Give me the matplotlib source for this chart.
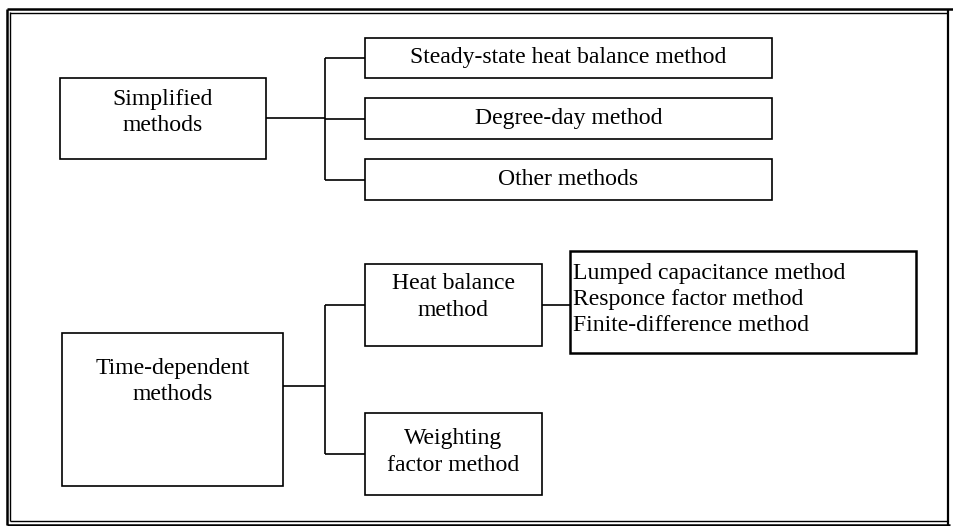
"""Classification of heat load calculation methods - tree diagram."""
import matplotlib.pyplot as plt
from matplotlib.patches import Rectangle

plt.rcParams['font.family'] = ['Liberation Serif', 'DejaVu Serif']

# Node labels
ROOT_LABELS = ['Simplified\nmethods', 'Time-dependent\nmethods']
SIMPLE_LABELS = ['Steady-state heat balance method', 'Degree-day method', 'Other methods']
TIME_LABELS = ['Heat balance\nmethod', 'Weighting\nfactor method']
HB_SUB_LABELS = ['Lumped capacitance method', 'Responce factor method', 'Finite-difference method']

# Layout in pixels (x0, y0, x1, y1), y downward
ROOT_BOXES = [(60, 78, 266, 159), (62, 333, 283, 486)]
ROOT_TEXT_Y = [112.5, 381.5]
SIMPLE_BOXES = [(365, 38, 772, 78), (365, 98, 772, 139), (365, 159, 772, 200)]
TIME_BOXES = [(365, 264, 542, 346), (365, 413, 542, 495)]
TIME_TEXT_Y = [297, 452]
HB_SUB_BOX = (570, 251, 916, 353)
BRANCH_X = 325
FS = 17.1
LSP = 1.32
LW = 1.2


def box(ax, b, lw=LW):
    x0, y0, x1, y1 = b
    ax.add_patch(Rectangle((x0, y0), x1 - x0, y1 - y0, fill=False,
                           edgecolor='black', linewidth=lw))


def line(ax, xs, ys, lw=LW):
    ax.plot(xs, ys, color='black', linewidth=lw, solid_capstyle='butt')


fig = plt.figure(figsize=(9.54, 5.26), dpi=100)
ax = fig.add_axes([0, 0, 1, 1])
ax.set_xlim(0, 954)
ax.set_ylim(526, 0)
ax.axis('off')

# outer double frame
line(ax, [7, 954], [9, 9], lw=1.8)
line(ax, [10, 948], [12.5, 12.5], lw=1.0)
line(ax, [7.5, 7.5], [9, 524.5], lw=1.8)
line(ax, [10.5, 10.5], [12, 521], lw=1.0)
line(ax, [7, 950], [524.5, 524.5], lw=1.8)
line(ax, [10, 948], [521, 521], lw=1.0)
line(ax, [948.5, 948.5], [9, 524.5], lw=1.6)

# root nodes
for b, ty, lab in zip(ROOT_BOXES, ROOT_TEXT_Y, ROOT_LABELS):
    box(ax, b)
    ax.text((b[0] + b[2]) / 2, ty, lab, ha='center', va='center',
            fontsize=FS, linespacing=LSP)

# simplified branch
sy = [(b[1] + b[3]) / 2 for b in SIMPLE_BOXES]
line(ax, [ROOT_BOXES[0][2], BRANCH_X], [118, 118])
line(ax, [BRANCH_X, BRANCH_X], [sy[0], sy[-1]])
for b, y, lab in zip(SIMPLE_BOXES, sy, SIMPLE_LABELS):
    box(ax, b)
    line(ax, [BRANCH_X, b[0]], [y, y])
    ax.text((b[0] + b[2]) / 2, y, lab, ha='center', va='center', fontsize=FS)

# time-dependent branch
ty_conn = [(b[1] + b[3]) / 2 for b in TIME_BOXES]
line(ax, [ROOT_BOXES[1][2], BRANCH_X], [386, 386])
line(ax, [BRANCH_X, BRANCH_X], [ty_conn[0], ty_conn[-1]])
for b, y, tty, lab in zip(TIME_BOXES, ty_conn, TIME_TEXT_Y, TIME_LABELS):
    box(ax, b)
    line(ax, [BRANCH_X, b[0]], [y, y])
    ax.text((b[0] + b[2]) / 2, tty, lab, ha='center', va='center',
            fontsize=FS, linespacing=LSP)

# heat balance sub-methods
line(ax, [TIME_BOXES[0][2], HB_SUB_BOX[0]], [ty_conn[0], ty_conn[0]])
box(ax, HB_SUB_BOX, lw=1.8)
ax.text(HB_SUB_BOX[0] + 3, 299.5, '\n'.join(HB_SUB_LABELS), ha='left', va='center',
        fontsize=FS, linespacing=LSP)

fig.savefig('out.png', dpi=100, facecolor='white')
